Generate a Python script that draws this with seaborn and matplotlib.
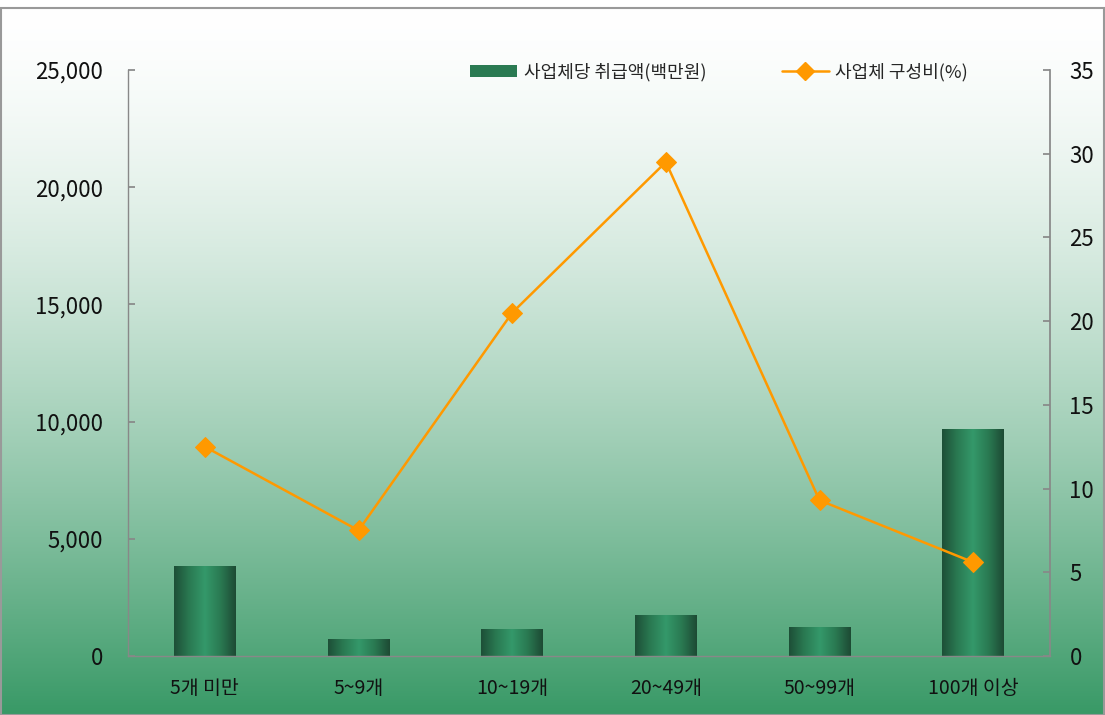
import numpy as np
import pandas as pd
import matplotlib
matplotlib.use("Agg")
import matplotlib.pyplot as plt
from matplotlib.colors import LinearSegmentedColormap
from matplotlib.patches import Rectangle
import seaborn as sns

# --------------------------------------------------
# data
# --------------------------------------------------
categories = ["5개 미만", "5~9개", "10~19개", "20~49개", "50~99개", "100개 이상"]
amount = [3840, 725, 1150, 1750, 1240, 9680]          # 사업체당 취급액(백만원)
share = [12.5, 7.5, 20.5, 29.5, 9.3, 5.6]              # 사업체 구성비(%)
left_ticks = [0, 5000, 10000, 15000, 20000, 25000]
right_ticks = [0, 5, 10, 15, 20, 25, 30, 35]

bar_label = "사업체당 취급액(백만원)"
line_label = "사업체 구성비(%)"

df = pd.DataFrame({"cat": categories, "amount": amount, "share": share})

sns.set_theme(style="white")
plt.rcParams["font.family"] = ["Noto Sans CJK KR", "DejaVu Sans"]

fig = plt.figure(figsize=(11.05, 7.15), dpi=100)

# --------------------------------------------------
# background gradient (white -> green)
# --------------------------------------------------
bg = fig.add_axes([0, 0, 1, 1], zorder=-10)
t = np.linspace(0, 1, 512) ** 1.5
top = np.array([1.0, 1.0, 1.0])
bottom = np.array([0.22, 0.60, 0.40])
grad = top[None, :] * (1 - t[:, None]) + bottom[None, :] * t[:, None]
bg.imshow(grad[:, None, :], aspect="auto", extent=[0, 1, 0, 1 - 8 / 715], origin="upper")
bg.set_xlim(0, 1)
bg.set_ylim(0, 1)
bg.axis("off")
fig.patches.append(Rectangle((0.001, 0), 0.998, 1 - 8 / 715, transform=fig.transFigure,
                             fill=False, edgecolor="#999999", lw=1.5))

# --------------------------------------------------
# bars
# --------------------------------------------------
ax = fig.add_axes([128 / 1105, 1 - 656 / 715, (1050 - 128) / 1105, (656 - 70) / 715])
ax.set_facecolor("none")
sns.barplot(data=df, x="cat", y="amount", ax=ax, color="#2e8b5e", width=0.4,
            saturation=1, label=bar_label)

bar_cmap = LinearSegmentedColormap.from_list(
    "bar", ["#1d4f37", "#2a7a52", "#34996a", "#2a7a52", "#1d4a34"])
row = np.linspace(0, 1, 256)[None, :]
for p in ax.patches:
    x0, y0 = p.get_x(), p.get_y()
    w, h = p.get_width(), p.get_height()
    im = ax.imshow(row, cmap=bar_cmap, aspect="auto", extent=[x0, x0 + w, y0, y0 + h],
                   zorder=2)
    im.set_clip_path(p)
    p.set_alpha(0)

ax.set_xlim(-0.5, 5.5)
ax.set_ylim(0, 25000)
ax.set_yticks(left_ticks)
ax.set_yticklabels([f"{v:,}" for v in left_ticks])
ax.set_xlabel("")
ax.set_ylabel("")
ax.set_xticks(np.arange(len(categories)))
ax.set_xticklabels(categories)
ax.set_xticks(np.arange(-0.5, 6.0, 1.0), minor=True)
ax.tick_params(axis="x", which="major", length=0, labelsize=14, pad=16, colors="#111111")
ax.tick_params(axis="x", which="minor", length=5, direction="in", color="#888888")
ax.tick_params(axis="y", length=5, direction="in", color="#888888", labelsize=16,
               pad=18, labelcolor="#111111", left=True)
for s in ["top", "right"]:
    ax.spines[s].set_visible(False)
for s in ["left", "bottom"]:
    ax.spines[s].set_color("#888888")
    ax.spines[s].set_linewidth(1)

# --------------------------------------------------
# line on secondary axis
# --------------------------------------------------
ax2 = ax.twinx()
sns.lineplot(data=df, x="cat", y="share", ax=ax2, color="#ff9900", lw=1.8, marker="D",
             markersize=10, markeredgecolor="#ff9900", sort=False, label=line_label)
ax2.set_ylim(0, 35)
ax2.set_yticks(right_ticks)
ax2.set_ylabel("")
ax2.set_xlabel("")
ax2.tick_params(axis="y", length=5, direction="in", color="#888888", labelsize=16,
                pad=14, labelcolor="#111111", right=True)
for s in ["top", "left", "bottom"]:
    ax2.spines[s].set_visible(False)
ax2.spines["right"].set_color("#888888")
ax2.set_xlim(-0.5, 5.5)

# --------------------------------------------------
# legend
# --------------------------------------------------
if ax2.get_legend():
    ax2.get_legend().remove()
if ax.get_legend():
    ax.get_legend().remove()
h1 = Rectangle((0, 0), 1, 1, facecolor="#2a7a52", edgecolor="none")
h2 = plt.Line2D([], [], color="#ff9900", lw=1.8, marker="D", markersize=9)
ax2.legend([h1, h2], [bar_label, line_label], loc="upper left",
           bbox_to_anchor=(326 / 922, 1.04), ncol=2, frameon=False, fontsize=13,
           handlelength=2.6, columnspacing=4.2, handletextpad=0.35)

fig.savefig("out.png", dpi=100)
